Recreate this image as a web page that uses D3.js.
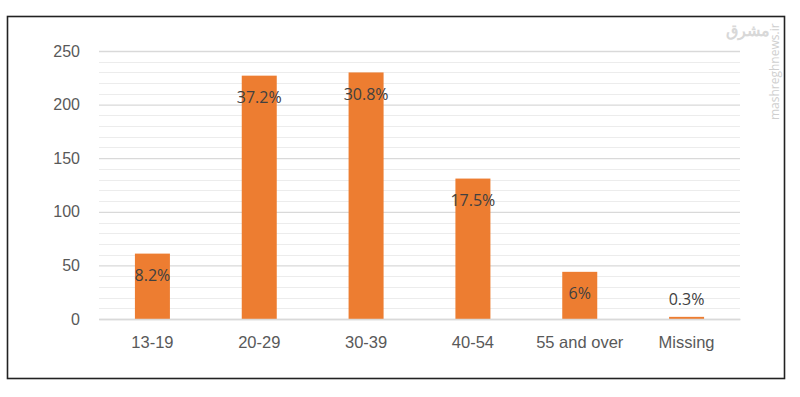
<!DOCTYPE html>
<html>
<head>
<meta charset="utf-8">
<script src="https://cdn.jsdelivr.net/npm/d3@7"></script>
<style>
  body { margin: 0; background: #fff; }
  svg { display: block; font-family: "Open Sans", "Noto Sans", sans-serif; }
</style>
</head>
<body>
<svg id="chart"></svg>
<script>
// chart data
var categories = ["13-19", "20-29", "30-39", "40-54", "55 and over", "Missing"];
var counts = [61, 227, 230, 131, 44, 2];
var pctLabels = ["8.2%", "37.2%", "30.8%", "17.5%", "6%", "0.3%"];
var yTicks = [0, 50, 100, 150, 200, 250];

var W = 800, H = 397;
var margin = {top: 51, right: 60, bottom: 78, left: 99},
    width = 740 - margin.left,
    height = 319 - margin.top;

var svg = d3.select("#chart")
    .attr("width", W)
    .attr("height", H);

// outer frame
svg.append("rect")
    .attr("x", 7.5).attr("y", 16.5)
    .attr("width", 777).attr("height", 362)
    .attr("fill", "none")
    .attr("stroke", "#222")
    .attr("stroke-width", 1.6);

var g = svg.append("g")
    .attr("transform", "translate(" + margin.left + "," + margin.top + ")");

var x = d3.scaleBand().domain(categories).range([0, width]).padding(0);
var y = d3.scaleLinear().domain([0, 250]).range([height, 0]);

// minor gridlines every 10
g.append("g")
  .selectAll("line")
  .data(d3.range(10, 250, 10).filter(function(v) { return v % 50 !== 0; }))
  .enter().append("line")
    .attr("x1", 0).attr("x2", width)
    .attr("y1", function(d) { return Math.round(y(d)) + 0.5; })
    .attr("y2", function(d) { return Math.round(y(d)) + 0.5; })
    .attr("stroke", "#ececec")
    .attr("stroke-width", 1);

// major gridlines
var yAxis = d3.axisLeft(y).tickValues(yTicks).tickSize(-width).tickPadding(19);
var yg = g.append("g").call(yAxis);
yg.select(".domain").remove();
yg.selectAll(".tick line")
    .attr("stroke", "#d9d9d9")
    .attr("stroke-width", 1.3);
yg.selectAll(".tick text")
    .attr("fill", "#595959")
    .style("font-size", "16px");

// bars
var barW = 35;
g.selectAll("rect.bar")
    .data(counts)
    .enter().append("rect")
    .attr("class", "bar")
    .attr("x", function(d, i) { return x(categories[i]) + x.bandwidth() / 2 - barW / 2; })
    .attr("y", function(d) { return y(d); })
    .attr("width", barW)
    .attr("height", function(d) { return height - y(d); })
    .attr("fill", "#ED7D31");

// x axis
var xg = g.append("g")
    .attr("transform", "translate(0," + height + ")")
    .call(d3.axisBottom(x).tickSize(0).tickPadding(17));
xg.select(".domain").attr("stroke", "#d9d9d9").attr("stroke-width", 1.3);
xg.selectAll(".tick text")
    .attr("fill", "#595959")
    .style("font-size", "16.5px");

// percentage labels
g.selectAll("text.lbl")
    .data(counts)
    .enter().append("text")
    .attr("class", "lbl")
    .attr("x", function(d, i) { return x(categories[i]) + x.bandwidth() / 2; })
    .attr("y", function(d) { return Math.min(y(d) + 22, height - 20); })
    .attr("dy", "0.35em")
    .attr("text-anchor", "middle")
    .attr("fill", "#404040")
    .style("font-size", "16px")
    .text(function(d, i) { return pctLabels[i]; });

// watermark
svg.append("text")
    .attr("transform", "translate(779,120) rotate(-90)")
    .attr("fill", "#cfcfcf")
    .style("font-size", "12px")
    .text("mashreghnews.ir");

svg.append("text")
    .attr("x", 748).attr("y", 36)
    .attr("text-anchor", "middle")
    .attr("fill", "#d8d8d8")
    .style("font-size", "16px")
    .style("font-weight", "bold")
    .text("مشرق");
</script>
</body>
</html>
